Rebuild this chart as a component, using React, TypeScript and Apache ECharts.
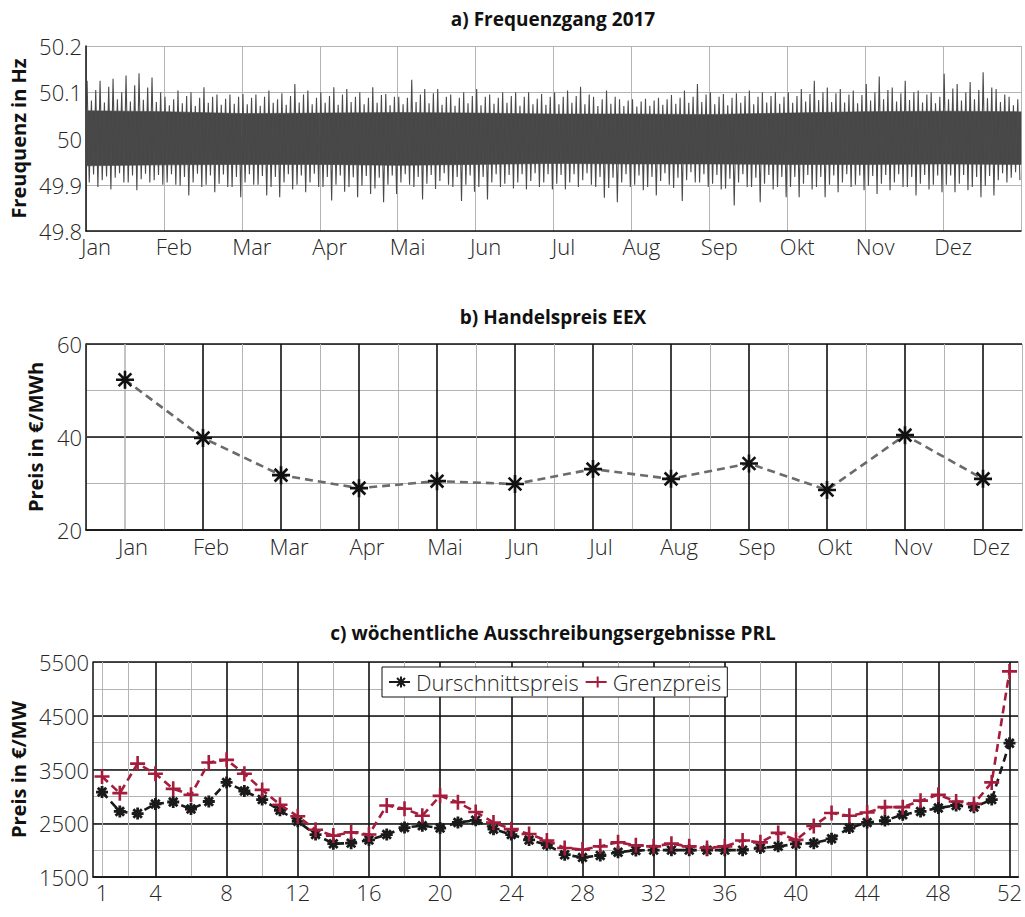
import React, { useEffect, useRef } from "react";
import * as echarts from "echarts";

// ---------- Data ----------
const monthLabels = ["Jan", "Feb", "Mar", "Apr", "Mai", "Jun", "Jul", "Aug", "Sep", "Okt", "Nov", "Dez"];

// a) Frequency 2017: six bins per month, local extremes
const freqHigh = [
  50.125, 50.125, 50.129, 50.136, 50.141, 50.132,
  50.09, 50.104, 50.1, 50.111, 50.095, 50.095,
  50.096, 50.095, 50.104, 50.098, 50.118, 50.104,
  50.1, 50.111, 50.107, 50.1, 50.111, 50.096,
  50.09, 50.127, 50.107, 50.107, 50.095, 50.1,
  50.107, 50.095, 50.1, 50.1, 50.1, 50.096,
  50.1, 50.104, 50.112, 50.09, 50.104, 50.085,
  50.085, 50.086, 50.088, 50.094, 50.104, 50.118,
  50.1, 50.096, 50.098, 50.104, 50.1, 50.1,
  50.1, 50.107, 50.125, 50.11, 50.107, 50.104,
  50.118, 50.134, 50.11, 50.125, 50.104, 50.1,
  50.14, 50.118, 50.122, 50.143, 50.107, 50.09,
];
const freqLow = [
  49.895, 49.89, 49.905, 49.888, 49.905, 49.9,
  49.9, 49.877, 49.895, 49.884, 49.895, 49.873,
  49.9, 49.877, 49.873, 49.89, 49.884, 49.895,
  49.866, 49.885, 49.873, 49.88, 49.862, 49.88,
  49.9, 49.868, 49.891, 49.9, 49.865, 49.885,
  49.868, 49.895, 49.892, 49.89, 49.895, 49.89,
  49.89, 49.895, 49.9, 49.872, 49.862, 49.895,
  49.888, 49.877, 49.9, 49.865, 49.905, 49.895,
  49.89, 49.855, 49.895, 49.862, 49.89, 49.873,
  49.873, 49.89, 49.873, 49.884, 49.895, 49.888,
  49.88, 49.888, 49.895, 49.877, 49.89, 49.884,
  49.884, 49.888, 49.873, 49.877, 49.905, 49.91,
];
const freqHigh2 = [
  50.105, 50.112, 50.1, 50.115, 50.11, 50.1,
  50.085, 50.092, 50.088, 50.09, 50.086, 50.09,
  50.088, 50.09, 50.085, 50.092, 50.095, 50.088,
  50.092, 50.095, 50.09, 50.088, 50.094, 50.09,
  50.088, 50.095, 50.098, 50.09, 50.088, 50.092,
  50.09, 50.088, 50.092, 50.09, 50.086, 50.09,
  50.09, 50.092, 50.095, 50.085, 50.09, 50.082,
  50.08, 50.082, 50.085, 50.088, 50.09, 50.095,
  50.09, 50.088, 50.092, 50.09, 50.092, 50.09,
  50.092, 50.096, 50.1, 50.098, 50.095, 50.094,
  50.1, 50.105, 50.098, 50.1, 50.095, 50.09,
  50.108, 50.1, 50.105, 50.11, 50.095, 50.085,
];
const freqLow2 = [
  49.905, 49.91, 49.915, 49.905, 49.912, 49.91,
  49.905, 49.898, 49.905, 49.9, 49.902, 49.895,
  49.905, 49.9, 49.895, 49.905, 49.9, 49.905,
  49.895, 49.9, 49.895, 49.898, 49.892, 49.9,
  49.905, 49.895, 49.902, 49.908, 49.895, 49.9,
  49.895, 49.905, 49.902, 49.905, 49.908, 49.905,
  49.902, 49.905, 49.91, 49.895, 49.893, 49.905,
  49.9, 49.895, 49.908, 49.893, 49.91, 49.905,
  49.902, 49.892, 49.905, 49.895, 49.902, 49.895,
  49.895, 49.902, 49.895, 49.9, 49.905, 49.9,
  49.898, 49.902, 49.905, 49.895, 49.902, 49.9,
  49.9, 49.902, 49.895, 49.898, 49.91, 49.915,
];
const freqHigh3 = [
  50.082, 50.078, 50.085, 50.08, 50.084, 50.079,
  50.072, 50.076, 50.07, 50.077, 50.073, 50.075,
  50.074, 50.071, 50.077, 50.073, 50.078, 50.074,
  50.077, 50.073, 50.079, 50.074, 50.077, 50.072,
  50.074, 50.079, 50.076, 50.073, 50.071, 50.076,
  50.072, 50.075, 50.077, 50.071, 50.074, 50.073,
  50.074, 50.077, 50.074, 50.07, 50.075, 50.07,
  50.069, 50.071, 50.073, 50.075, 50.077, 50.079,
  50.074, 50.072, 50.077, 50.074, 50.078, 50.075,
  50.077, 50.08, 50.083, 50.079, 50.078, 50.076,
  50.082, 50.085, 50.08, 50.083, 50.078, 50.076,
  50.085, 50.082, 50.085, 50.087, 50.079, 50.072,
];
const freqLow3 = [
  49.922, 49.918, 49.925, 49.92, 49.924, 49.921,
  49.923, 49.917, 49.924, 49.92, 49.922, 49.917,
  49.923, 49.919, 49.917, 49.923, 49.92, 49.924,
  49.917, 49.92, 49.916, 49.919, 49.915, 49.92,
  49.923, 49.917, 49.921, 49.925, 49.917, 49.92,
  49.917, 49.923, 49.921, 49.923, 49.925, 49.923,
  49.921, 49.923, 49.925, 49.917, 49.915, 49.923,
  49.92, 49.917, 49.925, 49.915, 49.927, 49.923,
  49.921, 49.913, 49.923, 49.915, 49.921, 49.917,
  49.917, 49.921, 49.917, 49.92, 49.923, 49.92,
  49.919, 49.921, 49.923, 49.917, 49.921, 49.92,
  49.92, 49.921, 49.917, 49.919, 49.925, 49.927,
];
// dense core of the band at each month boundary (Jan 1 ... Dec 31)
const freqCoreHigh = [50.06, 50.058, 50.054, 50.055, 50.056, 50.055, 50.053, 50.053, 50.052, 50.055, 50.058, 50.059, 50.058];
const freqCoreLow = [49.941, 49.943, 49.944, 49.944, 49.942, 49.944, 49.946, 49.945, 49.945, 49.944, 49.944, 49.945, 49.944];

// b) EEX monthly price
const eexPrice = [52.3, 39.8, 31.8, 29.0, 30.5, 29.9, 33.1, 31.0, 34.3, 28.6, 40.4, 31.0];

// c) weekly PRL results
const avgPrice = [
  3080, 2720, 2680, 2860, 2895, 2765, 2905, 3260, 3100, 2940,
  2740, 2535, 2290, 2120, 2130, 2190, 2290, 2420, 2455, 2410,
  2515, 2555, 2390, 2290, 2190, 2100, 1915, 1865, 1900, 1960,
  1995, 2000, 2000, 2000, 2000, 2000, 2000, 2040, 2070, 2115,
  2130, 2210, 2410, 2515, 2550, 2660, 2720, 2785, 2830, 2800,
  2940, 3990,
];
const limitPrice = [
  3370, 3060, 3610, 3420, 3140, 3030, 3630, 3680, 3420, 3120,
  2845, 2630, 2380, 2270, 2330, 2290, 2830, 2770, 2640, 3010,
  2890, 2710, 2515, 2390, 2300, 2180, 2040, 2010, 2070, 2145,
  2090, 2070, 2120, 2070, 2040, 2070, 2180, 2145, 2320, 2190,
  2450, 2690, 2640, 2700, 2800, 2800, 2920, 3030, 2905, 2860,
  3260, 5325,
];
const weekTickLabels = [1, 4, 8, 12, 16, 20, 24, 28, 32, 36, 40, 44, 48, 52];
const weekMinorLines = [1, 2.5, 6, 10, 14, 18, 22, 26, 30, 34, 38, 42, 46, 50, 52.5];

// ---------- Style ----------
const FONT = '"Open Sans", "Noto Sans", sans-serif';
const TEXT = "#262626";
const GRAY = "#b4b4b4";
const BLACK = "#111111";
const CLEAR = "rgba(0,0,0,0)";
const RED = "#a51d3c";
const BAND = "#474747";
const ASTERISK = "path://M0,-10L0,10M-10,0L10,0M-7.07,-7.07L7.07,7.07M-7.07,7.07L7.07,-7.07";
const PLUS = "path://M0,-10L0,10M-10,0L10,0";

function colorsFor(min: number, max: number, step: number, pick: (v: number) => string) {
  const out: string[] = [];
  const n = Math.round((max - min) / step);
  for (let k = 0; k <= n; k++) out.push(pick(+(min + k * step).toFixed(3)));
  return out;
}

const labelStyle = { fontFamily: FONT, fontSize: 22, fontWeight: 300 as const, color: TEXT };
const nameStyle = { fontFamily: FONT, fontSize: 20, fontWeight: "bold" as const, color: BLACK };
const titleFont = `bold 19px ${FONT}`;

export default function App() {
  const ref = useRef<HTMLDivElement>(null);

  useEffect(() => {
    if (!ref.current) return;
    const chart = echarts.init(ref.current, undefined, { renderer: "svg" });

    // zig-zag through the local extremes of each bin
    const spikes: number[][] = [];
    const w = 1 / 6;
    freqHigh.forEach((hi, b) => {
      const t0 = b * w;
      spikes.push([t0 + w * (1 / 12), hi]);
      spikes.push([t0 + w * (3 / 12), freqLow2[b]]);
      spikes.push([t0 + w * (5 / 12), freqHigh3[b]]);
      spikes.push([t0 + w * (7 / 12), freqLow3[b]]);
      spikes.push([t0 + w * (9 / 12), freqHigh2[b]]);
      spikes.push([t0 + w * (11 / 12), freqLow[b]]);
    });
    const coreSegments = freqCoreHigh.slice(0, -1).map((hi, i) => [
      i, i + 1, freqCoreLow[i], hi, freqCoreLow[i + 1], freqCoreHigh[i + 1],
    ]);

    const axisLine = { show: true, lineStyle: { color: BLACK, width: 1.5 } };

    const option: any = {
      animation: false,
      textStyle: { fontFamily: FONT },
      graphic: [
        { type: "text", x: 553, y: 19, style: { text: "a) Frequenzgang 2017", font: titleFont, fill: BLACK, textAlign: "center", textVerticalAlign: "middle" } },
        { type: "text", x: 553, y: 317, style: { text: "b) Handelspreis EEX", font: titleFont, fill: BLACK, textAlign: "center", textVerticalAlign: "middle" } },
        { type: "text", x: 553, y: 633, style: { text: "c) wöchentliche Ausschreibungsergebnisse PRL", font: titleFont, fill: BLACK, textAlign: "center", textVerticalAlign: "middle" } },
      ],
      grid: [
        { left: 86, top: 46, width: 935, height: 185 },
        { left: 86, top: 344, width: 936, height: 186 },
        { left: 86, top: 662, width: 936, height: 215 },
      ],
      legend: {
        data: ["Durschnittspreis", "Grenzpreis"],
        left: 382,
        top: 667,
        orient: "horizontal",
        backgroundColor: "#fff",
        borderColor: BLACK,
        borderWidth: 1,
        borderRadius: 0,
        padding: [4, 6, 4, 6],
        itemGap: 6,
        itemWidth: 24,
        itemHeight: 14,
        textStyle: { fontFamily: FONT, fontSize: 22, fontWeight: 300, color: TEXT, padding: [0, 0, 0, -2] },
      },
      xAxis: [
        // a
        {
          gridIndex: 0, type: "value", min: 0, max: 12, interval: 1, position: "bottom",
          axisLine, axisTick: { show: false },
          axisLabel: { ...labelStyle, margin: 4, padding: [0, 0, 0, 20], formatter: (v: number) => monthLabels[v] ?? "" },
          splitLine: { show: true, lineStyle: { color: GRAY, width: 1 } },
        },
        // b minor
        {
          gridIndex: 1, type: "value", min: 0.5, max: 12.5, interval: 1, position: "bottom",
          axisLine, axisTick: { show: false }, axisLabel: { show: false },
          splitLine: { show: true, lineStyle: { color: GRAY, width: 1 } },
        },
        // b major
        {
          gridIndex: 1, type: "value", min: 0.5, max: 12.5, interval: 0.5, position: "bottom",
          axisLine: { show: false }, axisTick: { show: false },
          axisLabel: {
            ...labelStyle, margin: 5, padding: [0, 0, 0, 16],
            formatter: (v: number) => (Number.isInteger(v) ? monthLabels[v - 1] ?? "" : ""),
          },
          splitLine: {
            show: true,
            lineStyle: { width: 1.6, color: colorsFor(0.5, 12.5, 0.5, (v) => (Number.isInteger(v) ? (v === 1 ? GRAY : BLACK) : CLEAR)) },
          },
        },
        // c minor
        {
          gridIndex: 2, type: "value", min: 0.5, max: 52.5, interval: 0.5, position: "bottom",
          axisLine, axisTick: { show: false }, axisLabel: { show: false },
          splitLine: { show: true, lineStyle: { width: 1, color: colorsFor(0.5, 52.5, 0.5, (v) => (weekMinorLines.includes(v) ? GRAY : CLEAR)) } },
        },
        // c major
        {
          gridIndex: 2, type: "value", min: 0.5, max: 52.5, interval: 0.5, position: "bottom",
          axisLine: { show: false }, axisTick: { show: false },
          axisLabel: { ...labelStyle, margin: 4, formatter: (v: number) => (weekTickLabels.includes(v) ? String(v) : "") },
          splitLine: { show: true, lineStyle: { width: 1.6, color: colorsFor(0.5, 52.5, 0.5, (v) => (weekTickLabels.includes(v) && v !== 1 ? BLACK : CLEAR)) } },
        },
      ],
      yAxis: [
        // a
        {
          gridIndex: 0, type: "value", min: 49.8, max: 50.2, interval: 0.1, position: "left",
          axisLine, axisTick: { show: false },
          axisLabel: { ...labelStyle, margin: 4, formatter: (v: number) => String(+v.toFixed(1)) },
          splitLine: { show: true, lineStyle: { color: GRAY, width: 1 } },
          name: "Freuquenz in Hz", nameLocation: "middle", nameGap: 54, nameTextStyle: nameStyle,
        },
        // b minor
        {
          gridIndex: 1, type: "value", min: 20, max: 60, interval: 10, position: "left",
          axisLine, axisTick: { show: false }, axisLabel: { show: false },
          splitLine: { show: true, lineStyle: { color: GRAY, width: 1 } },
        },
        // b major
        {
          gridIndex: 1, type: "value", min: 20, max: 60, interval: 20, position: "left",
          axisLine: { show: false }, axisTick: { show: false },
          axisLabel: { ...labelStyle, margin: 4, formatter: (v: number) => String(v) },
          splitLine: { show: true, lineStyle: { color: BLACK, width: 1.6 } },
          name: "Preis in €/MWh", nameLocation: "middle", nameGap: 36, nameTextStyle: nameStyle,
        },
        // c minor
        {
          gridIndex: 2, type: "value", min: 1500, max: 5500, interval: 500, position: "left",
          axisLine, axisTick: { show: false }, axisLabel: { show: false },
          splitLine: { show: true, lineStyle: { color: GRAY, width: 1 } },
        },
        // c major
        {
          gridIndex: 2, type: "value", min: 1500, max: 5500, interval: 1000, position: "left",
          axisLine: { show: false }, axisTick: { show: false },
          axisLabel: { ...labelStyle, margin: 4, formatter: (v: number) => String(v) },
          splitLine: { show: true, lineStyle: { color: BLACK, width: 1.6 } },
          name: "Preis in €/MW", nameLocation: "middle", nameGap: 62, nameTextStyle: nameStyle,
        },
      ],
      series: [
        {
          name: "core", type: "custom", xAxisIndex: 0, yAxisIndex: 0,
          data: coreSegments,
          encode: { x: [0, 1], y: [2, 3, 4, 5] },
          silent: true, z: 3,
          renderItem: (_p: any, api: any) => {
            const x0 = api.value(0), x1 = api.value(1);
            const pts = [
              api.coord([x0, api.value(3)]),
              api.coord([x1, api.value(5)]),
              api.coord([x1, api.value(4)]),
              api.coord([x0, api.value(2)]),
            ];
            return { type: "polygon", shape: { points: pts }, style: { fill: BAND, stroke: BAND, lineWidth: 0.6 } };
          },
        },
        {
          name: "Frequenz", type: "line", xAxisIndex: 0, yAxisIndex: 0, data: spikes,
          symbol: "none", lineStyle: { color: "#4a4a4a", width: 1.1 }, silent: true, z: 4,
        },
        {
          name: "EEX", type: "line", xAxisIndex: 2, yAxisIndex: 2,
          data: eexPrice.map((v, i) => [i + 1, v]),
          symbol: ASTERISK, symbolSize: 18,
          itemStyle: { color: BLACK, borderColor: BLACK, borderWidth: 2.6 },
          lineStyle: { color: "#6b6b6b", width: 2.6, type: [8, 5] },
          z: 5,
        },
        {
          name: "Durschnittspreis", type: "line", xAxisIndex: 4, yAxisIndex: 4,
          data: avgPrice.map((v, i) => [i + 1, v]),
          symbol: ASTERISK, symbolSize: 12,
          itemStyle: { color: "#1a1a1a", borderColor: "#1a1a1a", borderWidth: 2.8 },
          lineStyle: { color: "#1a1a1a", width: 2.6, type: [8, 5] },
          z: 5,
        },
        {
          name: "Grenzpreis", type: "line", xAxisIndex: 4, yAxisIndex: 4,
          data: limitPrice.map((v, i) => [i + 1, v]),
          symbol: PLUS, symbolSize: 15,
          itemStyle: { color: RED, borderColor: RED, borderWidth: 2.6 },
          lineStyle: { color: RED, width: 2.6, type: [8, 5] },
          z: 6,
        },
      ],
    };

    chart.setOption(option);
    return () => chart.dispose();
  }, []);

  return (
    <div
      ref={ref}
      style={{ position: "absolute", left: 0, top: 0, width: 1025, height: 917, background: "#fff" }}
    />
  );
}
